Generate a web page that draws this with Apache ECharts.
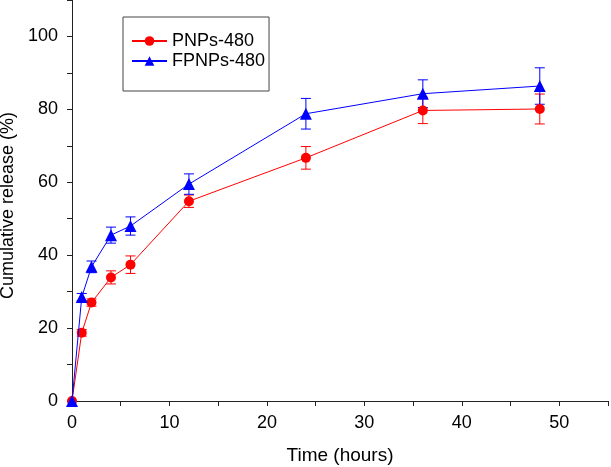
<!DOCTYPE html>
<html><head><meta charset="utf-8">
<script src="https://cdn.jsdelivr.net/npm/echarts@6/dist/echarts.min.js"></script>
<style>html,body{margin:0;padding:0;background:#fff}#c{width:611px;height:467px}</style>
</head><body><div id="c"></div>
<script>
// Data
const time = [0, 1, 2, 4, 6, 12, 24, 36, 48];
const pnps = [0, 18.7, 27.0, 33.9, 37.4, 54.8, 66.7, 79.7, 80.1];
const pnpsErr = [0, 0.9, 1.0, 1.8, 2.4, 1.7, 3.1, 3.6, 4.1];
const fpnps = [0, 28.5, 36.8, 45.5, 48.0, 59.5, 78.8, 84.3, 86.4];
const fpnpsErr = [0, 1.0, 1.6, 2.2, 2.5, 2.8, 4.2, 3.8, 5.0];
const seriesNames = ['PNPs-480', 'FPNPs-480'];
const xTitle = 'Time (hours)';
const yTitle = 'Cumulative release (%)';

const FONT = 'Arial, "Liberation Sans", sans-serif';
const RED = '#ff0000', BLUE = '#0000ff';

function pts(v) { return time.map((t, i) => [t, v[i]]); }
function errs(v, e) { return time.map((t, i) => [t, v[i] - e[i], v[i] + e[i]]); }

function errRender(color) {
  return function (params, api) {
    const x = api.value(0);
    const lo = api.coord([x, api.value(1)]);
    const hi = api.coord([x, api.value(2)]);
    const hw = 5;
    const style = { stroke: color, lineWidth: 1, fill: null };
    return {
      type: 'group',
      children: [
        { type: 'line', shape: { x1: lo[0], y1: lo[1], x2: hi[0], y2: hi[1] }, style },
        { type: 'line', shape: { x1: lo[0] - hw, y1: lo[1], x2: lo[0] + hw, y2: lo[1] }, style },
        { type: 'line', shape: { x1: hi[0] - hw, y1: hi[1], x2: hi[0] + hw, y2: hi[1] }, style }
      ]
    };
  };
}

const chart = echarts.init(document.getElementById('c'), null, { renderer: 'canvas' });
chart.setOption({
  animation: false,
  backgroundColor: '#fff',
  textStyle: { fontFamily: FONT },
  grid: { left: 72, right: 3, top: 0, bottom: 66, outerBoundsMode: 'none', containLabel: false },
  legend: {
    data: seriesNames,
    orient: 'vertical',
    left: 123, top: 17,
    padding: [15, 4, 21, 8],
    borderColor: '#444', borderWidth: 1,
    itemWidth: 35, itemHeight: 12, itemGap: 2,
    textStyle: { fontFamily: FONT, fontSize: 18, color: '#000' }
  },
  xAxis: {
    type: 'value', min: 0, max: 55, interval: 5,
    name: xTitle, nameLocation: 'middle', nameGap: 45,
    nameTextStyle: { fontFamily: FONT, fontSize: 19, color: '#000' },
    axisLine: { show: true, onZero: false, lineStyle: { color: '#222', width: 1 } },
    axisTick: { show: true, inside: false, length: 5, lineStyle: { color: '#222' } },
    axisLabel: { fontFamily: FONT, fontSize: 18, color: '#000', margin: 13,
      formatter: v => (v % 10 === 0 ? String(v) : '') },
    splitLine: { show: false }
  },
  yAxis: {
    type: 'value', min: 0, max: 110, interval: 10,
    name: yTitle, nameLocation: 'middle', nameGap: 55,
    nameTextStyle: { fontFamily: FONT, fontSize: 18, color: '#000', padding: [0, 10, 0, 0] },
    axisLine: { show: true, onZero: false, lineStyle: { color: '#222', width: 1 } },
    axisTick: { show: true, inside: false, length: 5, lineStyle: { color: '#222' } },
    axisLabel: { fontFamily: FONT, fontSize: 18, color: '#000', margin: 14,
      formatter: v => (v % 20 === 0 && v <= 100 ? String(v) : '') },
    splitLine: { show: false }
  },
  series: [
    { type: 'custom', name: 'errP', renderItem: errRender(RED), data: errs(pnps, pnpsErr), z: 1, silent: true },
    { type: 'custom', name: 'errF', renderItem: errRender(BLUE), data: errs(fpnps, fpnpsErr), z: 1, silent: true },
    { type: 'line', name: seriesNames[0], data: pts(pnps), symbol: 'circle', symbolSize: 10,
      lineStyle: { color: RED, width: 1 }, itemStyle: { color: RED }, z: 3 },
    { type: 'line', name: seriesNames[1], data: pts(fpnps), symbol: 'triangle', symbolSize: 12,
      lineStyle: { color: BLUE, width: 1 }, itemStyle: { color: BLUE }, z: 4 }
  ]
});
</script>
</body></html>
